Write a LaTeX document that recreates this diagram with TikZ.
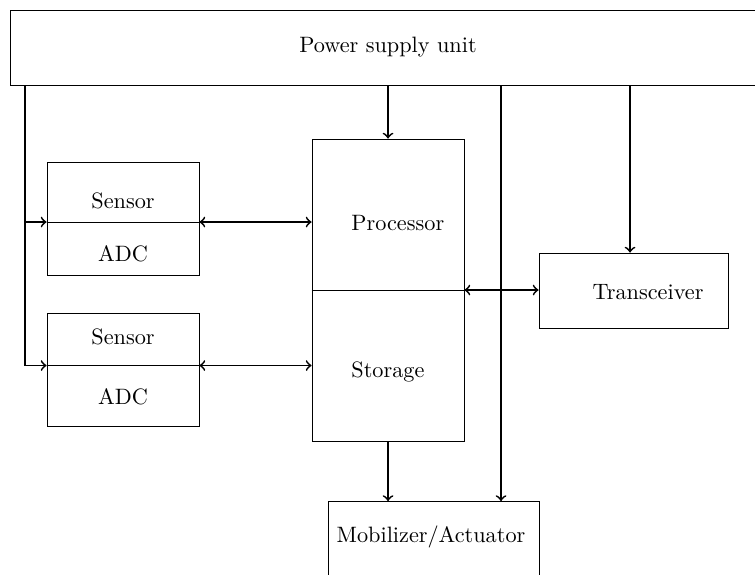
\documentclass[tikz,border=0pt]{standalone}
\usepackage{tikz}

\tikzset{
  block/.style={draw, thin, inner sep=0pt},
  link/.style={->, thick},
  dlink/.style={<->, thick}
}

\begin{document}
\begin{tikzpicture}[x=0.0158cm, y=-0.0158cm]
\useasboundingbox (0,0) rectangle (755,574);

% Blocks
\node[block, minimum width=756*0.0158cm, minimum height=75*0.0158cm] (power) at (388,47.5) {Power supply unit};
\node[block, minimum width=152*0.0158cm, minimum height=113*0.0158cm] (sensA) at (123,218.5) {};
\node[block, minimum width=152*0.0158cm, minimum height=113*0.0158cm] (sensB) at (123,369.5) {};
\node[block, minimum width=152*0.0158cm, minimum height=302*0.0158cm] (proc) at (388,290) {};
\node[block, minimum width=189*0.0158cm, minimum height=75*0.0158cm] (trx) at (633.5,290.5) {};
\node[block, minimum width=211*0.0158cm, minimum height=75*0.0158cm] (mob) at (433.5,539) {};

% Texts
\node (sensorA) at (123,201) {Sensor};
\node (adcA) at (123,254) {ADC};
\node (sensorB) at (123,337) {Sensor};
\node (adcB) at (123,397) {ADC};
\node[anchor=west, inner sep=0pt] (cpu) at (351,223) {Processor};
\node[anchor=west, inner sep=0pt] (mem) at (351,372) {Storage};
\node (radio) at (648,292) {Transceiver};
\node (act) at (431,537) {Mobilizer/Actuator};

% Taps
\coordinate (tapA) at (25,222);
\coordinate (tapB) at (25,365.5);
\coordinate (trxin) at (630,0);
\coordinate (mobin) at (501,0);

% Dividers
\draw[thin] (tapA -| sensA.west) -- (tapA -| sensA.east);
\draw[thin] (tapB -| sensB.west) -- (tapB -| sensB.east);
\draw[thin] (proc.west) -- (proc.east);

% Power lines
\draw[thick] (power.south -| tapA) -- (tapB);
\draw[link] (tapA) -- (tapA -| sensA.west);
\draw[link] (tapB) -- (tapB -| sensB.west);
\draw[link] (power.south -| proc.north) -- (proc.north);
\draw[link] (power.south -| trxin) -- (trx.north -| trxin);
\draw[link] (power.south -| mobin) -- (mob.north -| mobin);

% Data lines
\draw[dlink] (tapA -| sensA.east) -- (tapA -| proc.west);
\draw[dlink] (tapB -| sensB.east) -- (tapB -| proc.west);
\draw[dlink] (proc.east) -- (proc.east -| trx.west);
\draw[link] (proc.south) -- (proc.south |- mob.north);

\end{tikzpicture}
\end{document}
